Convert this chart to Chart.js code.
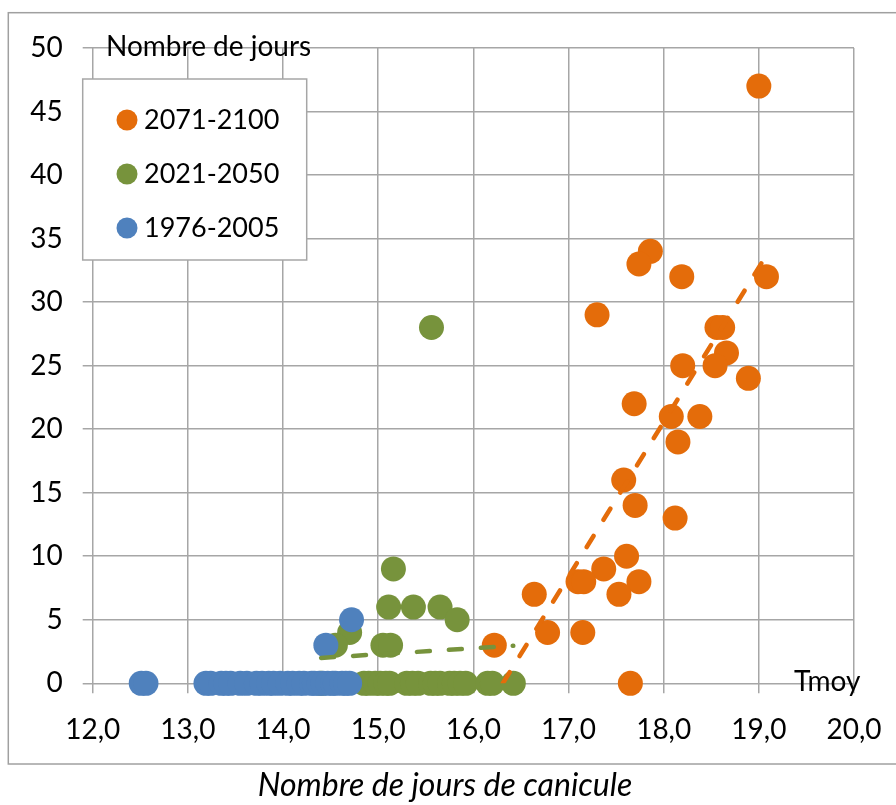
<!DOCTYPE html>
<html><head><meta charset="utf-8">
<script src="https://cdn.jsdelivr.net/npm/chart.js@4.4.1/dist/chart.umd.min.js"></script>
<style>html,body{margin:0;padding:0;background:#fff;}canvas{display:block;}</style>
</head><body>
<canvas id="c" width="896" height="805"></canvas>
<script>
// ---- data ----
const seriesLabels = ['2071-2100', '2021-2050', '1976-2005'];
const xTickLabels = ['12,0','13,0','14,0','15,0','16,0','17,0','18,0','19,0','20,0'];
const yTickLabels = ['0','5','10','15','20','25','30','35','40','45','50'];
const yAxisTitle = 'Nombre de jours';
const xAxisTitle = 'Tmoy';
const chartTitle = 'Nombre de jours de canicule';

const orangeX = [19.00, 19.08, 17.86, 17.74, 18.19, 17.30, 18.56, 18.62, 18.66, 18.20, 18.54, 18.89, 17.69, 18.08, 18.38, 18.15, 17.58, 17.70, 18.12, 17.61, 17.37, 17.10, 17.16, 17.74, 17.53, 16.64, 16.78, 17.15, 16.22, 17.65];
const orangeY = [47, 32, 34, 33, 32, 29, 28, 28, 26, 25, 25, 24, 22, 21, 21, 19, 16, 14, 13, 10, 9, 8, 8, 8, 7, 7, 4, 4, 3, 0];

const greenX = [15.56, 15.16, 15.11, 15.37, 15.65, 15.83, 14.70, 14.55, 15.05, 15.13, 14.40, 14.85, 14.90, 14.97, 15.02, 15.08, 15.12, 15.30, 15.36, 15.42, 15.55, 15.60, 15.65, 15.75, 15.80, 15.86, 15.92, 16.15, 16.20, 16.42];
const greenY = [28, 9, 6, 6, 6, 5, 4, 3, 3, 3, 0, 0, 0, 0, 0, 0, 0, 0, 0, 0, 0, 0, 0, 0, 0, 0, 0, 0, 0, 0];

const blueX = [12.51, 12.56, 13.19, 13.24, 13.35, 13.40, 13.45, 13.55, 13.62, 13.72, 13.78, 13.85, 13.90, 13.97, 14.05, 14.10, 14.17, 14.22, 14.30, 14.33, 14.38, 14.42, 14.47, 14.52, 14.55, 14.62, 14.66, 14.70, 14.45, 14.72];
const blueY = [0, 0, 0, 0, 0, 0, 0, 0, 0, 0, 0, 0, 0, 0, 0, 0, 0, 0, 0, 0, 0, 0, 0, 0, 0, 0, 0, 0, 3, 5];

const trendOrangeX = [16.31, 19.08];
const trendOrangeY = [0, 33.7];
const trendGreenX = [14.40, 16.42];
const trendGreenY = [2.0, 2.95];

// ---- styling ----
const COLORS = ['#E46C0A', '#77933C', '#4F81BD'];
const GRID = '#a6a6a6';
const FONT = 'Lato';
const FS = 28;

const pts = (xs, ys) => xs.map((x, i) => ({x: x, y: ys[i]}));

const decor = {
  id: 'decor',
  beforeDraw(chart) {
    const ctx = chart.ctx;
    ctx.save();
    ctx.fillStyle = '#fff';
    ctx.fillRect(0, 0, chart.width, chart.height);
    ctx.strokeStyle = '#a0a0a0';
    ctx.lineWidth = 1.5;
    ctx.strokeRect(8.3, 12.7, 900, 751.3);
    ctx.restore();
  },
  afterDraw(chart) {
    const ctx = chart.ctx;
    ctx.save();
    ctx.fillStyle = '#000';
    ctx.textBaseline = 'middle';
    ctx.font = FS + 'px ' + FONT;
    ctx.textAlign = 'left';
    ctx.fillText(yAxisTitle, 106, 47);
    ctx.fillText(xAxisTitle, 794, 682);
    // legend box
    ctx.fillStyle = '#fff';
    ctx.fillRect(82.7, 79, 224, 181);
    ctx.strokeStyle = GRID;
    ctx.lineWidth = 1.5;
    ctx.strokeRect(82.7, 79, 224, 181);
    ctx.font = '27px ' + FONT;
    const ly = [120, 174, 228];
    seriesLabels.forEach((lab, i) => {
      ctx.fillStyle = COLORS[i];
      ctx.beginPath();
      ctx.arc(127, ly[i], 10.5, 0, Math.PI * 2);
      ctx.fill();
      ctx.fillStyle = '#000';
      ctx.fillText(lab, 144, ly[i]);
    });
    // bottom title
    ctx.font = 'italic 32px ' + FONT;
    ctx.textAlign = 'center';
    ctx.fillText(chartTitle, 445, 786);
    ctx.restore();
  }
};

const scatterDs = (label, xs, ys, color, order) => ({
  type: 'scatter', label: label, data: pts(xs, ys),
  backgroundColor: color, borderColor: color, borderWidth: 0,
  pointRadius: 12.5, pointHoverRadius: 12.5, order: order, clip: false
});
const trendDs = (xs, ys, color) => ({
  type: 'scatter', label: 'trend', data: pts(xs, ys), showLine: true,
  borderColor: color, backgroundColor: color, borderWidth: 4.5,
  borderDash: [13, 19], borderCapStyle: 'round', pointRadius: 0, pointHoverRadius: 0, order: 0
});

new Chart(document.getElementById('c'), {
  type: 'scatter',
  data: {
    datasets: [
      trendDs(trendOrangeX, trendOrangeY, COLORS[0]),
      trendDs(trendGreenX, trendGreenY, COLORS[1]),
      scatterDs(seriesLabels[0], orangeX, orangeY, COLORS[0], 3),
      scatterDs(seriesLabels[1], greenX, greenY, COLORS[1], 2),
      scatterDs(seriesLabels[2], blueX, blueY, COLORS[2], 1)
    ]
  },
  options: {
    responsive: false,
    animation: false,
    events: [],
    layout: { padding: { left: 0, top: 48, right: 42, bottom: 0 } },
    plugins: { legend: { display: false }, tooltip: { enabled: false }, title: { display: false } },
    scales: {
      x: {
        type: 'linear', min: 12, max: 20,
        ticks: {
          stepSize: 1, padding: 14, color: '#000',
          font: { family: FONT, size: FS, lineHeight: 1.63 },
          callback: (v) => xTickLabels[Math.round(v - 12)]
        },
        grid: { color: GRID, lineWidth: 1.5, tickLength: 10, drawTicks: true },
        border: { display: false },
        afterFit: (s) => { s.height = 805 - 683.3; }
      },
      y: {
        type: 'linear', min: 0, max: 50,
        ticks: {
          stepSize: 5, padding: 20, color: '#000',
          font: { family: FONT, size: FS },
          callback: (v) => yTickLabels[Math.round(v / 5)]
        },
        grid: { color: GRID, lineWidth: 1.5, tickLength: 10, drawTicks: true },
        border: { display: false },
        afterFit: (s) => { s.width = 92.7; }
      }
    }
  },
  plugins: [decor]
});
</script>
</body></html>
